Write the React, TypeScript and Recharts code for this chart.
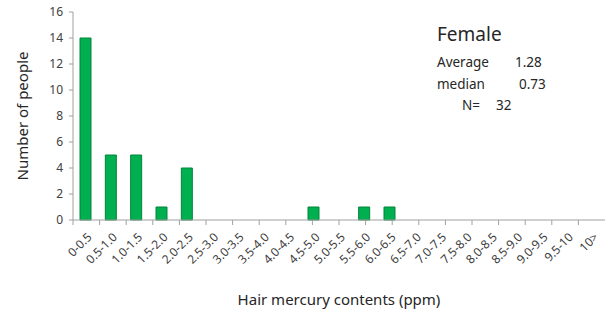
import React from 'react';
import { BarChart, Bar, XAxis, YAxis, Customized } from 'recharts';

const categories = ['0-0.5','0.5-1.0','1.0-1.5','1.5-2.0','2.0-2.5','2.5-3.0','3.0-3.5','3.5-4.0','4.0-4.5','4.5-5.0','5.0-5.5','5.5-6.0','6.0-6.5','6.5-7.0','7.0-7.5','7.5-8.0','8.0-8.5','8.5-9.0','9.0-9.5','9.5-10','10>'];
const counts = [14,5,5,1,4,0,0,0,0,1,0,1,1,0,0,0,0,0,0,0,0];
const yTicks = [0,2,4,6,8,10,12,14,16];
const boundaryTicks = Array.from({ length: categories.length + 1 }, (_, i) => i);
const statsTitle = 'Female';
const statsLines = [
  { label: 'Average', value: '1.28' },
  { label: 'median', value: '0.73' },
];
const nLabel = 'N=';
const nValue = '32';

const data = categories.map((c, i) => ({ name: c, value: counts[i] }));

const FONT = '"Noto Sans", "Open Sans", sans-serif';
const AXIS = '#a0a0a0';

const XTick = (props: any) => {
  const { x, y, payload } = props;
  return (
    <g transform={`translate(${x + 4},${y + 6})`}>
      <text x={0} y={0} dy={4} textAnchor="end" fill="#404040" fontSize={12} fontFamily={FONT} transform="rotate(-45)">
        {payload.value}
      </text>
    </g>
  );
};

const Stats = () => (
  <g fontFamily={FONT} fill="#262626">
    <text x={437} y={41} fontSize={19}>{statsTitle}</text>
    <text x={437} y={67} fontSize={13.5}>{statsLines[0].label}</text>
    <text x={515} y={67} fontSize={13.5}>{statsLines[0].value}</text>
    <text x={437} y={89} fontSize={13.5}>{statsLines[1].label}</text>
    <text x={519} y={89} fontSize={13.5}>{statsLines[1].value}</text>
    <text x={462} y={110} fontSize={13.5}>{nLabel}</text>
    <text x={496} y={110} fontSize={13.5}>{nValue}</text>
  </g>
);

export default function App() {
  return (
    <div style={{ position: 'absolute', left: 0, top: 0, background: '#fff' }}>
      <BarChart width={609} height={317} data={data} margin={{ top: 12, right: 4, bottom: 0, left: 0 }}>
        <XAxis
          xAxisId="b_cat"
          dataKey="name"
          type="category"
          interval={0}
          axisLine={false}
          tickLine={false}
          tick={<XTick />}
          height={96}
          label={{ value: 'Hair mercury contents (ppm)', position: 'insideBottom', offset: 0, dy: -12, fontSize: 15, fill: '#262626', fontFamily: FONT }}
        />
        <XAxis
          xAxisId="a_bounds"
          type="number"
          domain={[0, categories.length]}
          ticks={boundaryTicks}
          tickFormatter={() => ''}
          axisLine={{ stroke: AXIS }}
          tickLine={{ stroke: AXIS }}
          stroke={AXIS}
          tickSize={5}
          height={1}
          allowDataOverflow
        />
        <YAxis
          domain={[0, 16]}
          ticks={yTicks}
          interval={0}
          width={73}
          axisLine={{ stroke: AXIS, strokeWidth: 1 }}
          tickLine={{ stroke: AXIS }}
          tickSize={4}
          tickMargin={6}
          tick={{ fontSize: 12, fill: '#404040', fontFamily: FONT }}
          label={{ value: 'Number of people', angle: -90, position: 'insideLeft', dx: 18, fontSize: 15, fill: '#262626', fontFamily: FONT, style: { textAnchor: 'middle' } }}
        />
        <Bar xAxisId="b_cat" dataKey="value" fill="#00b050" stroke="#00843a" strokeWidth={1} barSize={11} isAnimationActive={false} />
        <Customized component={Stats} />
      </BarChart>
    </div>
  );
}
